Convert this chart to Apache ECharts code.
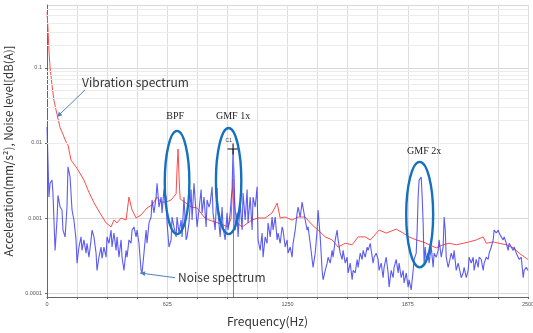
<!DOCTYPE html>
<html>
<head>
<meta charset="utf-8">
<script src="https://cdn.jsdelivr.net/npm/echarts@6/dist/echarts.min.js"></script>
<style>
  html, body { margin: 0; padding: 0; background: #fff; }
  #chart { width: 533px; height: 333px; }
</style>
</head>
<body>
<div id="chart"></div>
<script>
// frequency (Hz), acceleration (mm/s^2) -- red curve
const vibrationSpectrum = [
  [0, 0.56], [5, 0.34], [10, 0.174], [16, 0.1], [26, 0.059], [36, 0.037], [52, 0.024], [68, 0.016],
  [83, 0.013], [99, 0.0103], [109, 0.0094], [125, 0.0059], [156, 0.0046], [192, 0.0032], [218, 0.0022],
  [244, 0.0016], [281, 0.0011], [307, 0.00086], [333, 0.00076], [348, 0.00094], [364, 0.00086],
  [385, 0.001], [411, 0.00094], [426, 0.0019], [442, 0.00128], [463, 0.001], [489, 0.0011],
  [520, 0.00136], [546, 0.00149], [572, 0.0019], [593, 0.00163], [619, 0.00163], [645, 0.00174],
  [671, 0.0021], [676, 0.0045], [681, 0.0083], [687, 0.0032], [692, 0.0018], [749, 0.0014],
  [780, 0.00136], [816, 0.00103], [842, 0.00094], [889, 0.00086], [941, 0.00076], [957, 0.001],
  [967, 0.0033], [978, 0.00128], [988, 0.00086], [1014, 0.00076], [1066, 0.00094], [1097, 0.001],
  [1134, 0.001], [1170, 0.00117], [1196, 0.00158], [1212, 0.001], [1238, 0.00103], [1274, 0.00094],
  [1305, 0.00103], [1342, 0.00103], [1378, 0.00081], [1409, 0.00069], [1446, 0.00056], [1482, 0.00051],
  [1513, 0.00041], [1550, 0.00046], [1586, 0.00044], [1617, 0.00056], [1654, 0.00056], [1680, 0.00051],
  [1695, 0.00056], [1726, 0.00069], [1763, 0.00063], [1815, 0.00071], [1851, 0.00063], [1882, 0.00056],
  [1919, 0.00051], [1955, 0.00048], [1986, 0.00044], [2023, 0.0004], [2059, 0.00044], [2090, 0.00046],
  [2127, 0.00044], [2163, 0.00046], [2194, 0.00048], [2231, 0.00051], [2267, 0.00056], [2283, 0.00046],
  [2319, 0.00048], [2350, 0.00046], [2387, 0.00044], [2423, 0.0004], [2454, 0.00034], [2491, 0.00029],
  [2500, 0.00028]
]

// frequency (Hz), noise level -- blue curve
const noiseSpectrum = [
  [0, 0.0163], [5, 0.006], [10, 0.0019], [16, 0.0029], [26, 0.0032], [31, 0.00215], [42, 0.00037],
  [52, 0.00094], [57, 0.002], [68, 0.0014], [78, 0.00128], [83, 0.00069], [94, 0.00056], [104, 0.0014],
  [109, 0.0048], [120, 0.0035], [130, 0.00128], [140, 0.00094], [151, 0.00051], [156, 0.00025],
  [166, 0.00041], [177, 0.00056], [182, 0.00037], [192, 0.00051], [203, 0.00034], [208, 0.00046],
  [218, 0.0003], [229, 0.00051], [234, 0.00069], [244, 0.00056], [255, 0.00034], [260, 0.0002],
  [270, 0.0003], [281, 0.00041], [286, 0.00029], [296, 0.00041], [307, 0.0003], [312, 0.00056],
  [322, 0.00046], [333, 0.00069], [338, 0.00041], [348, 0.00063], [359, 0.00037], [364, 0.00056],
  [374, 0.0003], [385, 0.00051], [390, 0.0003], [400, 0.0002], [411, 0.00037], [416, 0.0003],
  [426, 0.00051], [437, 0.00046], [442, 0.00069], [452, 0.00076], [463, 0.00056], [468, 0.00069],
  [478, 0.00046], [489, 0.0002], [494, 0.000185], [504, 0.00034], [515, 0.00069], [520, 0.00046],
  [530, 0.00086], [541, 0.00103], [546, 0.00174], [556, 0.00117], [567, 0.0019], [572, 0.0029],
  [582, 0.0014], [593, 0.0019], [598, 0.00117], [608, 0.0024], [619, 0.0019], [624, 0.00086],
  [634, 0.00041], [645, 0.00051], [650, 0.00103], [660, 0.00076], [671, 0.00056], [676, 0.00103],
  [686, 0.00063], [697, 0.00094], [702, 0.00056], [712, 0.0019], [723, 0.00051], [728, 0.00056],
  [738, 0.00086], [749, 0.0024], [754, 0.00094], [764, 0.0029], [775, 0.00117], [780, 0.00076],
  [790, 0.00128], [801, 0.0024], [806, 0.00117], [816, 0.0019], [827, 0.00076], [832, 0.00174],
  [842, 0.0014], [848, 0.00158], [858, 0.0026], [863, 0.00117], [874, 0.00069], [884, 0.0025],
  [889, 0.00117], [900, 0.00056], [910, 0.0014], [915, 0.00076], [926, 0.00051], [936, 0.00117],
  [941, 0.00069], [952, 0.00117], [962, 0.0025], [967, 0.0083], [973, 0.0032], [978, 0.00069],
  [988, 0.00117], [993, 0.00056], [1004, 0.00158], [1014, 0.00069], [1019, 0.00215], [1030, 0.00094],
  [1040, 0.0024], [1045, 0.00086], [1056, 0.0019], [1066, 0.00069], [1071, 0.0019], [1082, 0.0014],
  [1092, 0.0026], [1097, 0.00051], [1108, 0.00037], [1118, 0.00063], [1123, 0.0003], [1134, 0.00056],
  [1144, 0.00046], [1149, 0.00086], [1160, 0.00056], [1170, 0.00103], [1175, 0.00069], [1186, 0.00103],
  [1196, 0.00051], [1201, 0.00063], [1212, 0.00046], [1222, 0.00076], [1227, 0.00069], [1238, 0.00041],
  [1248, 0.00051], [1253, 0.00034], [1264, 0.00041], [1274, 0.0003], [1279, 0.00046], [1290, 0.00069],
  [1300, 0.00117], [1305, 0.0014], [1316, 0.00103], [1326, 0.00163], [1331, 0.00158], [1342, 0.00094],
  [1352, 0.00069], [1357, 0.00076], [1368, 0.00046], [1378, 0.00028], [1383, 0.00022], [1394, 0.00034],
  [1404, 0.00069], [1409, 0.00128], [1420, 0.00056], [1430, 0.0002], [1435, 0.00015], [1446, 0.0002],
  [1456, 0.00025], [1461, 0.0003], [1472, 0.00025], [1482, 0.00037], [1487, 0.0003], [1498, 0.00051],
  [1508, 0.00069], [1513, 0.00051], [1524, 0.00034], [1534, 0.00028], [1539, 0.00037], [1550, 0.00025],
  [1560, 0.0003], [1565, 0.000185], [1576, 0.00025], [1586, 0.00015], [1591, 0.0002], [1602, 0.000185],
  [1612, 0.00028], [1617, 0.00022], [1628, 0.00034], [1638, 0.00028], [1643, 0.00037], [1654, 0.0003],
  [1664, 0.00041], [1669, 0.00037], [1680, 0.00046], [1685, 0.00037], [1695, 0.00025], [1700, 0.0003],
  [1711, 0.00034], [1721, 0.00028], [1726, 0.0002], [1737, 0.00025], [1747, 0.00016], [1752, 0.00022],
  [1763, 0.0003], [1773, 0.000185], [1778, 0.00012], [1789, 0.0002], [1799, 0.00016], [1804, 0.00022],
  [1815, 0.00028], [1825, 0.000185], [1830, 0.00025], [1841, 0.00016], [1851, 0.0002], [1856, 0.000136],
  [1867, 0.000185], [1877, 0.00012], [1882, 0.00015], [1893, 0.00011], [1903, 0.0002], [1908, 0.00028],
  [1919, 0.00034], [1924, 0.00069], [1929, 0.0019], [1934, 0.0032], [1945, 0.0035], [1950, 0.0019],
  [1955, 0.00086], [1960, 0.00025], [1966, 0.00041], [1971, 0.00028], [1981, 0.00034], [1986, 0.00025],
  [1997, 0.00041], [2007, 0.00022], [2012, 0.00034], [2023, 0.0003], [2033, 0.00037], [2038, 0.00051],
  [2049, 0.0003], [2059, 0.00041], [2064, 0.00103], [2070, 0.00069], [2075, 0.0003], [2085, 0.00022],
  [2090, 0.00025], [2101, 0.00034], [2111, 0.00028], [2116, 0.00037], [2127, 0.0002], [2137, 0.00025],
  [2142, 0.00022], [2153, 0.00016], [2163, 0.000185], [2168, 0.00022], [2179, 0.00016], [2189, 0.0002],
  [2194, 0.0003], [2205, 0.00025], [2215, 0.0003], [2220, 0.0002], [2231, 0.00028], [2241, 0.00022],
  [2246, 0.0003], [2257, 0.00028], [2267, 0.0002], [2272, 0.00025], [2283, 0.0003], [2293, 0.00028],
  [2298, 0.00034], [2309, 0.00041], [2319, 0.00051], [2324, 0.00069], [2335, 0.00063], [2345, 0.00069],
  [2350, 0.00063], [2361, 0.00056], [2371, 0.00051], [2376, 0.00056], [2387, 0.00046], [2397, 0.00037],
  [2402, 0.00046], [2413, 0.00041], [2423, 0.00037], [2428, 0.00041], [2439, 0.00034], [2449, 0.0003],
  [2454, 0.00028], [2465, 0.0003], [2475, 0.00016], [2480, 0.0002], [2491, 0.00022], [2500, 0.0002]
]

// cursor C1 on the GMF 1x peak
const cursorPoint = [967, 0.0083]

// highlighted peaks: centre freq, half width (Hz), top / bottom level, label position
const peakMarks = [
  { name: 'BPF', freq: 676, halfWidth: 64, top: 0.0145, bottom: 0.00061, labelFreq: 666, labelLevel: 0.0229 },
  { name: 'GMF 1x', freq: 944, halfWidth: 66, top: 0.0158, bottom: 0.00061, labelFreq: 967, labelLevel: 0.0229 },
  { name: 'GMF 2x', freq: 1937, halfWidth: 70, top: 0.0056, bottom: 0.00022, labelFreq: 1960, labelLevel: 0.0078 },
]

// callouts: text anchor and arrow from -> to (data coords)
const callouts = [
  { text: 'Vibration spectrum', at: [182, 0.065], from: [198, 0.051], to: [52, 0.0222] },
  { text: 'Noise spectrum', at: [681, 0.000163], from: [666, 0.00016], to: [484, 0.000185] },
]

const freqMax = 2500
const freqLabelStep = 625
const freqGridStep = 156.25
const levelMin = 0.0000885
const levelMax = 0.69

// log minor grid lines (2..9 x decade)
const minorLevels = []
for (let e = -4; e <= -1; e++) {
  for (let m = 2; m <= 9; m++) {
    const v = m * Math.pow(10, e)
    if (v < levelMax) minorLevels.push(+v.toPrecision(2))
  }
}

const chart = echarts.init(document.getElementById('chart'))

const titleFont = 'Noto Sans CJK KR'

chart.setOption({
  animation: false,
  backgroundColor: '#fff',
  grid: { left: 47, right: 5, top: 5, bottom: 36, containLabel: false, outerBoundsMode: 'none' },
  xAxis: {
    type: 'value',
    min: 0,
    max: freqMax,
    interval: freqGridStep,
    name: 'Frequency(Hz)',
    nameLocation: 'middle',
    nameGap: 18,
    nameTextStyle: { fontFamily: titleFont, fontSize: 12, color: '#333', padding: [0, 40, 0, 0] },
    axisLine: { lineStyle: { color: '#666', width: 1 } },
    axisTick: { length: 2, lineStyle: { color: '#666' } },
    axisLabel: {
      fontSize: 5.5,
      color: '#555',
      margin: 4,
      formatter: (v) => (v % freqLabelStep === 0 ? String(v) : ''),
    },
    splitLine: { show: true, lineStyle: { color: '#dedede', width: 1 } },
  },
  yAxis: {
    type: 'log',
    logBase: 10,
    min: levelMin,
    max: levelMax,
    name: 'Acceleration(mm/s\u00b2), Noise level[dB(A)]',
    nameLocation: 'middle',
    nameGap: 27,
    nameTextStyle: { fontFamily: titleFont, fontSize: 11.5, color: '#333' },
    axisLine: { show: true, lineStyle: { color: '#666', width: 1 } },
    axisTick: { show: true, length: 2, lineStyle: { color: '#666' } },
    axisLabel: {
      fontSize: 5.5,
      color: '#555',
      margin: 5,
      showMinLabel: false,
      showMaxLabel: false,
      formatter: (v) => String(+(+v).toPrecision(1)),
    },
    splitLine: { show: true, lineStyle: { color: '#d8d8d8', width: 1 } },
  },
  series: [
    {
      name: 'grid-minor',
      type: 'line',
      data: [],
      silent: true,
      z: 1,
      markLine: {
        silent: true,
        symbol: ['none', 'none'],
        label: { show: false },
        lineStyle: { color: '#ececec', type: 'solid', width: 1 },
        data: minorLevels.map((v) => ({ yAxis: v })),
      },
    },
    {
      name: 'Vibration spectrum',
      type: 'line',
      data: vibrationSpectrum,
      symbol: 'none',
      z: 3,
      lineStyle: { color: '#ff4b4b', width: 1 },
    },
    {
      name: 'Noise spectrum',
      type: 'line',
      data: noiseSpectrum,
      symbol: 'none',
      z: 4,
      lineStyle: { color: '#4040f0', width: 1.1, opacity: 0.85 },
      markLine: {
        silent: true,
        symbol: ['none', 'none'],
        label: { show: false },
        lineStyle: { color: '#888', type: 'solid', width: 1 },
        data: [[{ coord: cursorPoint }, { coord: [cursorPoint[0], levelMin] }]],
      },
      markPoint: {
        silent: true,
        data: [{
          coord: cursorPoint,
          symbol: 'path://M4.5,0h1v4.5h4.5v1h-4.5v4.5h-1v-4.5h-4.5v-1h4.5z',
          symbolSize: 11,
          itemStyle: { color: '#111' },
          label: { show: true, formatter: 'C1', position: [-2, -5], fontSize: 5, color: '#333' },
        }],
      },
    },
  ],
})

function toPx(pt) {
  return chart.convertToPixel({ gridIndex: 0 }, pt)
}

function arrowHead(p0, p1, len, half) {
  const dx = p1[0] - p0[0]
  const dy = p1[1] - p0[1]
  const d = Math.sqrt(dx * dx + dy * dy)
  const ux = dx / d
  const uy = dy / d
  const bx = p1[0] - ux * len
  const by = p1[1] - uy * len
  return [[p1[0], p1[1]], [bx - uy * half, by + ux * half], [bx + uy * half, by - ux * half]]
}

const graphics = []

peakMarks.forEach((m) => {
  const c = toPx([m.freq, m.top])
  const b = toPx([m.freq, m.bottom])
  const r = toPx([m.freq + m.halfWidth, m.top])
  graphics.push({
    type: 'ellipse',
    shape: { cx: c[0], cy: (c[1] + b[1]) / 2, rx: r[0] - c[0], ry: (b[1] - c[1]) / 2 },
    style: { fill: 'none', stroke: '#1570be', lineWidth: 2.4 },
    z: 10,
  })
  const l = toPx([m.labelFreq, m.labelLevel])
  graphics.push({
    type: 'text',
    x: l[0],
    y: l[1],
    style: {
      text: m.name,
      fontFamily: 'Liberation Serif',
      fontSize: 10,
      fill: '#222',
      textAlign: 'center',
      textVerticalAlign: 'middle',
    },
    z: 10,
  })
})

callouts.forEach((c) => {
  const at = toPx(c.at)
  const p0 = toPx(c.from)
  const p1 = toPx(c.to)
  graphics.push({
    type: 'line',
    shape: { x1: p0[0], y1: p0[1], x2: p1[0], y2: p1[1] },
    style: { stroke: '#4f81bd', lineWidth: 1 },
    z: 10,
  })
  graphics.push({
    type: 'polygon',
    shape: { points: arrowHead(p0, p1, 5, 2.5) },
    style: { fill: '#4f81bd' },
    z: 10,
  })
  graphics.push({
    type: 'text',
    x: at[0],
    y: at[1],
    style: {
      text: c.text,
      fontFamily: titleFont,
      fontSize: 12,
      fill: '#333',
      textAlign: 'left',
      textVerticalAlign: 'middle',
    },
    z: 10,
  })
})

chart.setOption({ graphic: graphics })
</script>
</body>
</html>
